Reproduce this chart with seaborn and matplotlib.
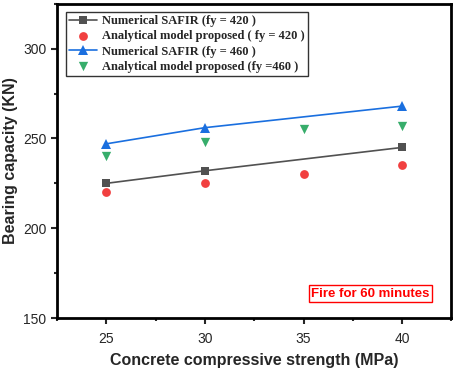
import pandas as pd
import matplotlib.pyplot as plt
import seaborn as sns
from matplotlib.ticker import MultipleLocator

# Data
fc_safir = [25, 30, 40]
safir_420 = [225, 232, 245]
safir_460 = [247, 256, 268]

fc_model = [25, 30, 35, 40]
model_420 = [220, 225, 230, 235]
model_460 = [240, 248, 255, 257]

labels = [
    "Numerical SAFIR (fy = 420 )",
    "Analytical model proposed ( fy = 420 )",
    "Numerical SAFIR (fy = 460 )",
    "Analytical model proposed (fy =460 )",
]
colors = ["#515151", "#F14040", "#1A6FDF", "#37AD6B"]

sns.set_style("ticks")
plt.rcParams['font.family'] = ['Liberation Sans', 'DejaVu Sans']

fig, ax = plt.subplots(figsize=(4.56, 3.72), dpi=100)

df_s = pd.DataFrame({"fc": fc_safir, "s420": safir_420, "s460": safir_460})
df_m = pd.DataFrame({"fc": fc_model, "m420": model_420, "m460": model_460})

sns.lineplot(data=df_s, x="fc", y="s420", ax=ax, color=colors[0], marker="s",
             markersize=6, markeredgewidth=0, linewidth=1.2, label=labels[0])
sns.scatterplot(data=df_m, x="fc", y="m420", ax=ax, color=colors[1], marker="o",
                s=40, linewidth=0, label=labels[1])
sns.lineplot(data=df_s, x="fc", y="s460", ax=ax, color=colors[2], marker="^",
             markersize=7, markeredgewidth=0, linewidth=1.2, label=labels[2])
sns.scatterplot(data=df_m, x="fc", y="m460", ax=ax, color=colors[3], marker="v",
                s=45, linewidth=0, label=labels[3])

ax.set_xlim(22.5, 42.5)
ax.set_ylim(150, 325)
ax.set_xticks([25, 30, 35, 40])
ax.set_yticks([150, 200, 250, 300])
ax.xaxis.set_minor_locator(MultipleLocator(2.5))
ax.yaxis.set_minor_locator(MultipleLocator(25))
ax.tick_params(which="major", direction="out", length=4, width=1.5, labelsize=10)
ax.tick_params(which="minor", direction="out", length=2.5, width=1.5)
ax.tick_params(axis="x", which="major", pad=6)
for sp in ax.spines.values():
    sp.set_linewidth(2)
    sp.set_color("black")

ax.set_xlabel("Concrete compressive strength (MPa)", fontsize=11.5,
              fontweight="bold", labelpad=5)
ax.set_ylabel("Bearing capacity (KN)", fontsize=11.5, fontweight="bold")

leg = ax.legend(loc="upper left", bbox_to_anchor=(0.022, 0.975), borderaxespad=0,
                frameon=True, fancybox=False, edgecolor="black", handlelength=2.2,
                borderpad=0.3, labelspacing=0.25, handletextpad=0.4,
                prop={"family": "Liberation Serif", "weight": "bold", "size": 9})
leg.get_frame().set_linewidth(1)

ax.text(38.4, 163.5, "Fire for 60 minutes", color="red", fontsize=9.5,
        fontweight="bold", ha="center", va="center",
        bbox=dict(boxstyle="square,pad=0.2", fc="white", ec="red", lw=1))

plt.subplots_adjust(left=0.125, right=0.99, top=0.99, bottom=0.145)
plt.savefig("out.png", dpi=100)
